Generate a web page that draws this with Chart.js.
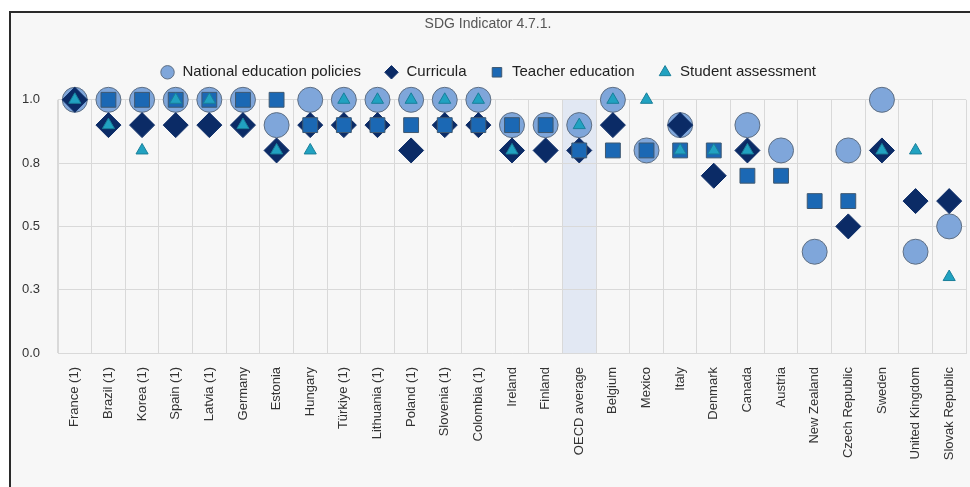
<!DOCTYPE html>
<html>
<head>
<meta charset="utf-8">
<script src="https://cdn.jsdelivr.net/npm/chart.js@4/dist/chart.umd.min.js"></script>
<style>
  html, body { margin: 0; padding: 0; background: #ffffff; width: 970px; height: 487px; overflow: hidden; }
  #frame { position: absolute; left: 9px; top: 11px; right: 0; bottom: 0; background: #f7f7f7;
           border-left: 2px solid #2a2a2a; border-top: 2px solid #2a2a2a; }
  #c { position: absolute; left: 0; top: 0; }
</style>
</head>
<body>
<div id="frame"></div>
<canvas id="c" width="970" height="487"></canvas>
<script>
// Countries along the x axis
const countries = [
  'France (1)', 'Brazil (1)', 'Korea (1)', 'Spain (1)', 'Latvia (1)', 'Germany', 'Estonia',
  'Hungary', 'Türkiye (1)', 'Lithuania (1)', 'Poland (1)', 'Slovenia (1)', 'Colombia (1)',
  'Ireland', 'Finland', 'OECD average', 'Belgium', 'Mexico', 'Italy', 'Denmark', 'Canada',
  'Austria', 'New Zealand', 'Czech Republic', 'Sweden', 'United Kingdom', 'Slovak Republic'
];

// Index values per component (null = not reported)
const nationalPolicies = [1.0, 1.0, 1.0, 1.0, 1.0, 1.0, 0.9, 1.0, 1.0, 1.0, 1.0, 1.0, 1.0,
  0.9, 0.9, 0.9, 1.0, 0.8, 0.9, null, 0.9, 0.8, 0.4, 0.8, 1.0, 0.4, 0.5];
const curricula = [1.0, 0.9, 0.9, 0.9, 0.9, 0.9, 0.8, 0.9, 0.9, 0.9, 0.8, 0.9, 0.9,
  0.8, 0.8, 0.8, 0.9, null, 0.9, 0.7, 0.8, null, null, 0.5, 0.8, 0.6, 0.6];
const teacherEducation = [null, 1.0, 1.0, 1.0, 1.0, 1.0, 1.0, 0.9, 0.9, 0.9, 0.9, 0.9, 0.9,
  0.9, 0.9, 0.8, 0.8, 0.8, 0.8, 0.8, 0.7, 0.7, 0.6, 0.6, null, null, null];
const studentAssessment = [1.0, 0.9, 0.8, 1.0, 1.0, 0.9, 0.8, 0.8, 1.0, 1.0, 1.0, 1.0, 1.0,
  0.8, null, 0.9, 1.0, 1.0, 0.8, 0.8, 0.8, null, null, null, 0.8, 0.8, 0.3];

// Y axis ticks and the highlighted category
const yTicks = [0, 0.25, 0.5, 0.75, 1.0];
const highlightCategory = 'OECD average';

const FONT = '"Liberation Sans", Arial, Helvetica, sans-serif';
Chart.defaults.font.family = FONT;

// Shaded band behind the OECD average column
const columnBand = {
  id: 'columnBand',
  beforeDraw(chart) {
    const x = chart.scales.x, y = chart.scales.y;
    const i = countries.indexOf(highlightCategory);
    if (i < 0) return;
    const half = (x.getPixelForValue(1) - x.getPixelForValue(0)) / 2;
    const cx = x.getPixelForValue(i);
    const ctx = chart.ctx;
    ctx.save();
    ctx.fillStyle = '#e2e8f3';
    ctx.fillRect(cx - half, y.getPixelForValue(1), half * 2, y.getPixelForValue(0) - y.getPixelForValue(1));
    ctx.restore();
  }
};

// Extra space between the legend and the plot area
const legendMargin = {
  id: 'legendMargin',
  beforeInit(chart) {
    const fit = chart.legend.fit;
    chart.legend.fit = function () {
      fit.call(this);
      this.height += 10;
    };
  }
};

function series(label, data, style, radius, fill, stroke, order) {
  return {
    label, data,
    showLine: false,
    pointStyle: style,
    pointRadius: radius,
    pointHoverRadius: radius,
    backgroundColor: fill,
    borderColor: stroke,
    pointBackgroundColor: fill,
    pointBorderColor: stroke,
    pointBorderWidth: 1,
    borderWidth: 1,
    order,
    clip: false
  };
}

new Chart(document.getElementById('c'), {
  type: 'line',
  data: {
    labels: countries,
    datasets: [
      series('National education policies', nationalPolicies, 'circle', 12.5, '#7fa6da', '#5e6e82', 4),
      series('Curricula', curricula, 'rectRot', 12.5, '#0b2b66', '#0b2b66', 3),
      series('Teacher education', teacherEducation, 'rect', 10.5, '#1b68b4', '#3f5870', 2),
      series('Student assessment', studentAssessment, 'triangle', 7, '#21a2c1', '#1a7f99', 1)
    ]
  },
  options: {
    responsive: false,
    animation: false,
    events: [],
    layout: { autoPadding: false, padding: { top: 0, left: 10, right: 4, bottom: 0 } },
    plugins: {
      title: {
        display: true,
        text: 'SDG Indicator 4.7.1.',
        color: '#555555',
        font: { size: 14, weight: 'normal' },
        padding: { top: 16, bottom: 9 }
      },
      legend: {
        display: true,
        position: 'top',
        labels: {
          usePointStyle: true,
          boxWidth: 15,
          boxHeight: 9.5,
          padding: 23,
          color: '#222222',
          font: { size: 15 },
          sort: (a, b) => a.datasetIndex - b.datasetIndex
        }
      },
      tooltip: { enabled: false }
    },
    scales: {
      x: {
        type: 'category',
        offset: true,
        grid: { offset: true, color: '#d9d9d9', drawTicks: false },
        border: { color: '#d9d9d9' },
        ticks: {
          autoSkip: false, minRotation: 90, maxRotation: 90, padding: 14,
          color: '#333333', font: { size: 13 }
        },
        afterFit(scale) {
          scale.height = 134;
          scale.paddingLeft = 0;
          scale.paddingRight = 0;
        }
      },
      y: {
        min: 0, max: 1,
        afterBuildTicks(scale) { scale.ticks = yTicks.map(v => ({ value: v })); },
        grid: { color: '#d9d9d9', drawTicks: false },
        border: { color: '#d9d9d9' },
        ticks: {
          padding: 18, color: '#333333', font: { size: 13 },
          callback: v => Number(v).toFixed(1)
        },
        afterFit(scale) { scale.width = 48; }
      }
    }
  },
  plugins: [columnBand, legendMargin]
});
</script>
</body>
</html>
